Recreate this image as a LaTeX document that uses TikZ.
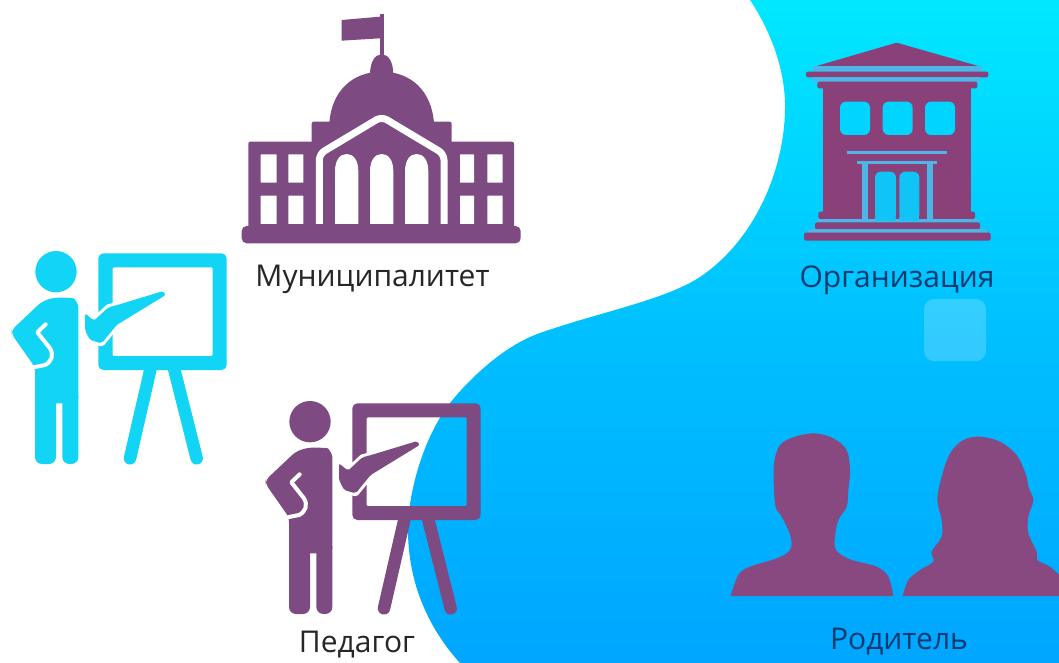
\documentclass[tikz,border=0pt]{standalone}
\usepackage{fontspec}
\setmainfont{Open Sans}
\definecolor{pur}{HTML}{7E4A82}
\definecolor{orgp}{HTML}{8A4079}
\definecolor{par}{HTML}{87497F}
\definecolor{cyn}{HTML}{12D4F4}
\definecolor{gapb}{HTML}{4DB6E6}
\definecolor{winb}{HTML}{00D4FF}
\definecolor{doorb}{HTML}{10C4F6}
\definecolor{txtb}{HTML}{0B3A70}
\tikzset{
  zoomed/.style={x=.33333pt,y=-.33333pt},
  label/.style={font=\fontsize{30}{34}\selectfont,inner sep=0pt,anchor=center},
}
\newcommand{\teacherfig}[3]{%
\begin{scope}[xshift=#2,yshift=#3,zoomed]
  % board
  \fill[#1,even odd rule] [rounded corners=5pt] (295,70) rectangle (680,420) [rounded corners=1pt] (338,112) rectangle (638,378);
  \draw[#1,line width=12.5pt,line cap=round] (452,415) -- (390,685);
  \draw[#1,line width=12.5pt,line cap=round] (522,415) -- (590,685);
  % head
  \fill[#1] (168,125) circle (62);
  % body
  \fill[#1,rounded corners=5pt] (160,203) -- (205,203) .. controls (225,205) and (235,225) .. (235,245) -- (235,520)
     -- (105,520) -- (105,412) -- (35,312) -- (35,300) -- (125,215) -- cycle;
  \fill[#1,rounded corners=7pt] (105,480) rectangle (168,702);
  \fill[#1,rounded corners=7pt] (187,480) rectangle (235,702);
  \draw[white,line width=4pt,line cap=round,line join=round] (137,283) -- (112,307) -- (150,355) .. controls (162,375) and (155,395) .. (135,405) -- (100,412);
  % pointing arm
  \path[draw=white,line width=6pt,line join=round,fill=white] (255,250) -- (282,272) -- (325,232) -- (352,225) -- (490,183) -- (497,195) -- (350,285) -- (305,340) -- (270,330) -- (255,300) -- cycle;
  \fill[#1,rounded corners=2pt] (255,250) -- (282,272) -- (325,232) -- (352,225) -- (490,183) -- (497,195) -- (350,285) -- (305,340) -- (270,330) -- (255,300) -- cycle;
\end{scope}}
\begin{document}
\begin{tikzpicture}[x=1pt,y=-1pt]
\useasboundingbox (0,0) rectangle (1059,663);
\fill[white] (0,0) rectangle (1059,663);
% blob
\begin{scope}
  \clip (750,0) .. controls (770,30) and (786,70) .. (785,110)
     .. controls (784,170) and (755,240) .. (700,277)
     .. controls (665,300) and (600,312) .. (540,333)
     .. controls (505,345) and (470,378) .. (450,403)
     .. controls (425,435) and (408,490) .. (408,530)
     .. controls (408,585) and (430,630) .. (460,663)
     -- (1059,663) -- (1059,0) -- cycle;
  \shade[top color={rgb,255:red,0;green,232;blue,255},bottom color={rgb,255:red,0;green,192;blue,255}] (400,-1) rectangle (1059,330);
  \shade[top color={rgb,255:red,0;green,192;blue,255},bottom color={rgb,255:red,0;green,166;blue,255}] (400,330) rectangle (1059,664);
\end{scope}
\fill[white,opacity=.2,rounded corners=10pt] (924,299) rectangle (986,361);

% city hall
\begin{scope}[xshift=220pt,zoomed]
  \fill[pur] (365,60) -- (480,50) -- (480,115) -- (365,122) -- cycle;
  \draw[pur,line width=3.2pt] (486,42) -- (486,170);
  \fill[pur] (450,225) .. controls (450,185) and (465,163) .. (485,163) .. controls (505,163) and (520,185) .. (520,225) -- cycle;
  \fill[pur] (328,370) .. controls (335,270) and (400,215) .. (485,215) .. controls (570,215) and (635,270) .. (642,370) -- cycle;
  \fill[pur,rounded corners=2pt] (275,365) rectangle (695,440);
  \fill[pur,rounded corners=2pt] (85,425) rectangle (882,690);
  \fill[pur,rounded corners=5pt] (65,678) rectangle (902,730);
  \foreach \xa/\xb in {122/170,205/250,720/762,802/848}{
    \fill[white,rounded corners=.5pt] (\xa,463) rectangle (\xb,548);
    \fill[white,rounded corners=.5pt] (\xa,587) rectangle (\xb,672);
  }
  \draw[white,line width=7pt,line join=round,rounded corners=6pt] (298,672) -- (298,462) -- (485,350) -- (672,462) -- (672,672);
  \foreach \xa/\xb in {345/415,450/520,555/625}{
    \fill[white] (\xa,672) -- (\xa,515) .. controls (\xa,480) and (\xa+15,462) .. ({(\xa+\xb)/2},462) .. controls (\xb-15,462) and (\xb,480) .. (\xb,515) -- (\xb,672) -- cycle;
  }
\end{scope}
\node[label,text=black!85] (mun) at (372.5,279) {Муниципалитет};

% organisation
\begin{scope}[xshift=780pt,yshift=-20pt,zoomed]
  \fill[orgp,rounded corners=1pt] (110,138) -- (350,68) -- (595,138) -- cycle;
  \fill[gapb] (100,138) rectangle (605,155);
  \fill[orgp,rounded corners=2pt] (78,155) rectangle (625,172);
  \fill[gapb] (100,172) rectangle (600,185);
  \fill[orgp,rounded corners=2pt] (112,185) rectangle (592,205);
  \fill[orgp] (130,200) rectangle (572,595);
  \fill[orgp,rounded corners=2pt] (115,575) rectangle (585,597);
  \fill[gapb] (110,597) rectangle (595,607);
  \fill[orgp,rounded corners=2pt] (105,607) rectangle (600,628);
  \fill[gapb] (85,628) rectangle (620,638);
  \fill[orgp,rounded corners=2pt] (72,638) rectangle (632,662);
  \foreach \xa/\xb in {180/270,308/398,435/525}{
    \fill[winb,rounded corners=6pt] (\xa,245) rectangle (\xb,345);
  }
  \draw[gapb,line width=2.6pt] (200,397) -- (502,397);
  \draw[gapb,line width=2.6pt] (232,428) -- (472,428);
  \draw[gapb,line width=6pt] (255,428) -- (255,600);
  \draw[gapb,line width=6pt] (450,428) -- (450,600);
  \fill[doorb,rounded corners=6pt] (285,602) -- (285,455) -- (348,455) -- (348,602) -- cycle;
  \fill[doorb,rounded corners=6pt] (358,602) -- (358,455) -- (418,455) -- (418,602) -- cycle;
  \fill[doorb] (285,590) rectangle (348,602);
  \fill[doorb] (358,590) rectangle (418,602);
\end{scope}
\node[label,text=txtb] (org) at (897,280) {Организация};

% parents
\begin{scope}[xshift=700pt,yshift=-420pt,zoomed]
  \fill[par] plot[smooth,tension=.55] coordinates {(92,528) (115,465) (150,440) (230,415) (270,390) (272,350) (245,290) (228,265) (222,210) (222,130) (240,75) (285,50) (345,40) (400,55) (440,90) (450,150) (445,210) (440,260) (415,300) (405,350) (408,390) (450,418) (530,440) (565,470) (580,528)} -- cycle;
  \fill[par] plot[smooth,tension=.55] coordinates {(608,528) (625,480) (660,450) (700,425) (695,395) (725,350) (725,300) (712,240) (725,170) (750,100) (790,60) (840,50) (900,65) (950,105) (978,165) (985,200) (1000,240) (985,290) (985,340) (1010,395) (1012,420) (1050,440) (1077,465)} -- (1077,528) -- cycle;
\end{scope}
\node[label,text=txtb] (par) at (899,642) {Родитель};

% teachers
\teacherfig{cyn}{0pt}{-230pt}
\teacherfig{pur}{254pt}{-380pt}
\node[label,text=black!85] (ped) at (357,645) {Педагог};
\end{tikzpicture}
\end{document}
